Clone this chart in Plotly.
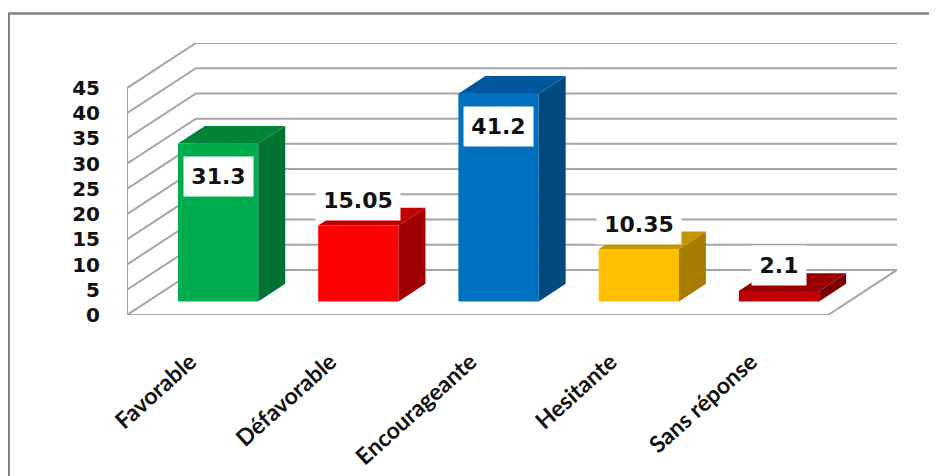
import plotly.graph_objects as go

categories = ["Favorable", "Défavorable", "Encourageante", "Hesitante", "Sans réponse"]
values = [31.3, 15.05, 41.2, 10.35, 2.1]
value_labels = ["31.3", "15.05", "41.2", "10.35", "2.1"]
y_ticks = [0, 5, 10, 15, 20, 25, 30, 35, 40, 45]
front_colors = ["#00AD4E", "#FF0000", "#0070C0", "#FFC000", "#C00000"]
side_colors = ["#007232", "#A00000", "#004A80", "#A67D00", "#7C0000"]
top_colors = ["#008537", "#C00000", "#00569A", "#C49500", "#960000"]
label_inside = [True, False, True, False, False]

# oblique projection, in axis units
N = len(categories)
WALL_DX, WALL_DY = 0.4915, 8.93
BAR_DX, BAR_DY = 0.192, 3.51
BAR_BASE, BAR_SHIFT, BAR_W = 2.68, 0.15, 0.573
GRID = "#A6A6A6"

# the page has an 8px body margin, so the figure is 8px smaller than the window
L, R, T, B = 119, 40, 35, 161
W, H = 929, 468
plot_w, plot_h = W - L - R, H - T - B

fig = go.Figure()

shapes = []
def seg(xs, ys):
    path = "M " + " L ".join(f"{x},{y}" for x, y in zip(xs, ys))
    shapes.append(dict(type="path", path=path, xref="x", yref="y", layer="below",
                       line=dict(color=GRID, width=2)))

for v in y_ticks:
    seg([0, WALL_DX, N + WALL_DX], [v, v + WALL_DY, v + WALL_DY])
seg([0, 0], [0, y_ticks[-1]])
seg([0, N, N + WALL_DX], [0, 0, WALL_DY])

# outer frame, running past the right and bottom of the page
fx0 = (0.7 - L) / plot_w
fy1 = (H - B - 5.5) / plot_h
shapes.append(dict(type="rect", xref="paper", yref="paper", x0=fx0, x1=1.3, y0=-1, y1=fy1,
                   layer="below", line=dict(color="#808080", width=2.5)))

centers = [i + 0.5 + BAR_SHIFT for i in range(N)]

fig.add_trace(go.Bar(x=centers, y=values, base=[BAR_BASE] * N, width=BAR_W,
                     marker=dict(color=front_colors, line=dict(width=0)),
                     hoverinfo="skip", showlegend=False))

for c, v, sc, tc in zip(centers, values, side_colors, top_colors):
    l, r = c - BAR_W / 2, c + BAR_W / 2
    b, t = BAR_BASE, BAR_BASE + v
    fig.add_trace(go.Scatter(x=[r, r + BAR_DX, r + BAR_DX, r, r],
                             y=[b, b + BAR_DY, t + BAR_DY, t, b],
                             mode="lines", fill="toself", fillcolor=sc, line=dict(width=0),
                             hoverinfo="skip", showlegend=False))
    fig.add_trace(go.Scatter(x=[l, l + BAR_DX, r + BAR_DX, r, l],
                             y=[t, t + BAR_DY, t + BAR_DY, t, t],
                             mode="lines", fill="toself", fillcolor=tc, line=dict(width=0),
                             hoverinfo="skip", showlegend=False))

annotations = []
for c, v, txt, inside in zip(centers, values, value_labels, label_inside):
    annotations.append(dict(
        x=c, y=BAR_BASE + v, xref="x", yref="y", text=txt, showarrow=False,
        xanchor="center", yanchor="middle",
        yshift=-33 if inside else 25,
        width=69 if inside else (84 if len(txt) > 3 else 54), height=39,
        bgcolor="#FFFFFF", borderpad=0,
        font=dict(family="DejaVu Sans", size=22, color="#111111", weight=600)))

fig.update_layout(
    width=W, height=H,
    margin=dict(l=L, r=R, t=T, b=B, autoexpand=False),
    paper_bgcolor="#FFFFFF", plot_bgcolor="#FFFFFF",
    showlegend=False, shapes=shapes, annotations=annotations,
    xaxis=dict(range=[0, N + WALL_DX], showgrid=False, zeroline=False, showline=False,
               tickmode="array", tickvals=[i + 0.45 for i in range(N)], ticktext=categories,
               tickangle=-42, ticks="", ticklabelstandoff=28,
               tickfont=dict(family="Lato", size=23, color="#111111", weight=700)),
    yaxis=dict(range=[0, y_ticks[-1] + WALL_DY], showgrid=False, zeroline=False, showline=False,
               tickmode="array", tickvals=y_ticks, ticktext=[str(v) for v in y_ticks], ticks="",
               ticklabelstandoff=26,
               tickfont=dict(family="DejaVu Sans", size=20, color="#111111", weight=700)),
)
fig.write_html("out.html", config=dict(displayModeBar=False))
